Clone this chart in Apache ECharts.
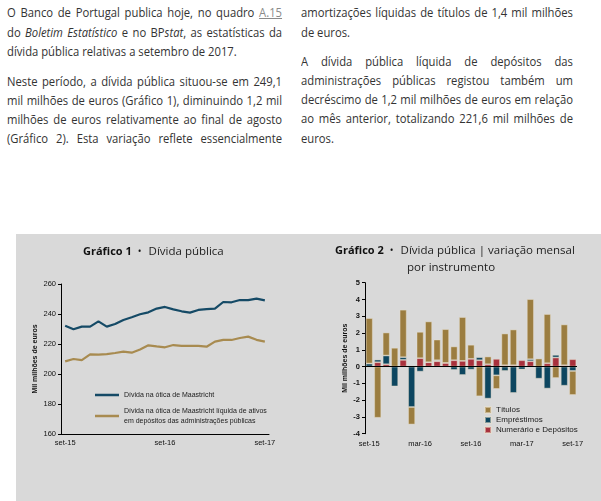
<!DOCTYPE html>
<html><head><meta charset="utf-8">
<script src="https://cdn.jsdelivr.net/npm/echarts@6/dist/echarts.min.js"></script>
<style>
body{margin:0;background:#fff;width:601px;height:501px;overflow:hidden;position:relative;font-family:'Open Sans',sans-serif;}
.l{position:absolute;height:19.4px;line-height:19.4px;font-size:12.5px;color:#333;white-space:normal;transform:scaleX(0.9);transform-origin:0 0;}
.j{text-align:justify;text-align-last:justify;}
.a{text-decoration:underline;color:#8a8a8a;}
#c{position:absolute;left:16px;top:234px;width:585px;height:267px;}
</style></head>
<body>
<div class="l j" style="left:7px;top:3px;width:305.6px">O Banco de Portugal publica hoje, no quadro <span class="a">A.15</span></div>
<div class="l j" style="left:7px;top:22.6px;width:305.6px">do <i>Boletim Estatístico</i> e no BP<i>stat</i>, as estatísticas da</div>
<div class="l" style="left:7px;top:42px;width:305.6px">dívida pública relativas a setembro de 2017.</div>
<div class="l j" style="left:7px;top:72px;width:305.6px">Neste período, a dívida pública situou-se em 249,1</div>
<div class="l j" style="left:7px;top:91px;width:305.6px">mil milhões de euros (Gráfico 1), diminuindo 1,2 mil</div>
<div class="l j" style="left:7px;top:110px;width:305.6px">milhões de euros relativamente ao final de agosto</div>
<div class="l j" style="left:7px;top:129px;width:305.6px">(Gráfico 2). Esta variação reflete essencialmente</div>
<div class="l j" style="left:301px;top:3px;width:302.2px">amortizações líquidas de títulos de 1,4 mil milhões</div>
<div class="l" style="left:301px;top:22.6px;width:302.2px">de euros.</div>
<div class="l j" style="left:301px;top:52px;width:302.2px">A dívida pública líquida de depósitos das</div>
<div class="l j" style="left:301px;top:71px;width:302.2px">administrações públicas registou também um</div>
<div class="l j" style="left:301px;top:90.3px;width:302.2px">decréscimo de 1,2 mil milhões de euros em relação</div>
<div class="l j" style="left:301px;top:109.3px;width:302.2px">ao mês anterior, totalizando 221,6 mil milhões de</div>
<div class="l" style="left:301px;top:128.6px;width:302.2px">euros.</div>
<div id="c"></div>
<script>
const months = ['set-15','out-15','nov-15','dez-15','jan-16','fev-16','mar-16','abr-16','mai-16','jun-16','jul-16','ago-16','set-16','out-16','nov-16','dez-16','jan-17','fev-17','mar-17','abr-17','mai-17','jun-17','jul-17','ago-17','set-17'];
const dividaMaastricht = [232.2,229.8,231.6,231.6,235.1,231.6,233.3,236.0,237.8,239.8,241.1,243.6,244.7,243.1,241.8,240.9,242.7,243.3,243.6,248.0,247.8,249.3,249.3,250.3,249.1];
const dividaLiquida = [208.4,210.0,209.3,213.1,212.9,213.3,214.0,214.9,214.2,216.4,219.1,218.4,217.8,219.3,218.7,218.7,218.7,218.2,221.6,222.7,222.7,224.0,224.9,222.8,221.6];
const titulos = [2.71,-3.05,1.37,1.12,2.83,-1.04,1.57,2.43,1.23,2.01,0.82,2.61,0.84,-1.77,0.46,-0.81,1.89,2.13,0.0,3.58,0.48,2.93,-0.68,2.43,-1.43];
const emprestimos = [0.18,0.16,0.52,-1.18,0.16,-2.41,-0.30,0.0,0.06,0.0,-0.20,-0.50,-0.18,0.18,-1.91,-0.52,-0.26,-1.57,-0.18,0.12,-0.72,-1.31,0.16,-1.14,-0.26];
const numerario = [0.0,0.26,0.14,0.0,0.40,0.03,0.50,0.26,0.32,0.22,0.38,0.34,0.46,0.38,0.14,0.46,0.08,0.08,0.38,0.32,0.0,0.20,0.54,0.08,0.44];

const nameL1 = 'Dívida na ótica de Maastricht';
const nameL2 = 'Dívida na ótica de Maastricht líquida de ativos\nem depósitos das administrações públicas';
const cGold = '#9b7d40', cBlue = '#0d4660', cRed = '#a8313d', cLineBlue = '#154a66', cLineGold = '#a88b50';
const axisFont = {fontSize:7.5, color:'#111', fontFamily:'Liberation Sans'};
const rich = {
  b:{fontFamily:'Open Sans', fontWeight:'bold', fontSize:11, color:'#111'},
  d:{fontFamily:'Open Sans', fontWeight:'normal', fontSize:10, color:'#111', padding:[0,7,0,6]},
  n:{fontFamily:'Open Sans', fontWeight:'normal', fontSize:11.5, color:'#222'}
};
const chart = echarts.init(document.getElementById('c'));
const barStyle = c => ({color:c, borderColor:'rgba(235,225,205,0.55)', borderWidth:0.8});
chart.setOption({
  backgroundColor:'#d9d9d9',
  animation:false,
  textStyle:{fontFamily:'Liberation Sans'},
  title:[
    {left:62, top:7, text:'{b|Gráfico 1}{d|•}{n|Dívida pública}', textStyle:{fontWeight:'normal', rich}},
    {left:314, top:6, text:'{b|Gráfico 2}{d|•}{n|Dívida pública | variação mensal}', textStyle:{fontWeight:'normal', rich}},
    {left:386, top:23, text:'{n|por instrumento}', textStyle:{fontWeight:'normal', rich}}
  ],
  legend:[
    {data:[nameL1, nameL2], orient:'vertical', left:74, top:151, itemWidth:24, itemHeight:2.5, itemGap:6, icon:'rect',
     textStyle:{fontSize:7, lineHeight:10, color:'#1a1a1a', fontFamily:'Liberation Sans'}},
    {data:['Títulos','Empréstimos','Numerário e Depósitos'], orient:'vertical', left:463, top:167, itemWidth:6, itemHeight:6, itemGap:2, icon:'rect',
     textStyle:{fontSize:8, lineHeight:8, color:'#1a1a1a', fontFamily:'Liberation Sans'}}
  ],
  grid:[
    {left:45, top:50, width:208, height:150},
    {left:349, top:48.7, width:212, height:151}
  ],
  xAxis:[
    {gridIndex:0, type:'category', data:months, boundaryGap:true,
     axisLine:{lineStyle:{color:'#000', width:1}}, axisTick:{interval:11, length:4, lineStyle:{color:'#000'}},
     axisLabel:Object.assign({interval:11, margin:5}, axisFont)},
    {gridIndex:1, type:'category', data:months, boundaryGap:true,
     axisLine:{show:false}, axisTick:{show:false},
     axisLabel:Object.assign({interval:5, margin:6}, axisFont)}
  ],
  yAxis:[
    {gridIndex:0, type:'value', min:160, max:260, interval:20,
     axisLine:{show:true, lineStyle:{color:'#000'}}, axisTick:{show:true, length:3, lineStyle:{color:'#000'}},
     splitLine:{show:false}, axisLabel:Object.assign({margin:5}, axisFont),
     name:'Mil milhões de euros', nameLocation:'middle', nameGap:22,
     nameTextStyle:{fontSize:7, fontWeight:'bold', color:'#111', fontFamily:'Liberation Sans'}},
    {gridIndex:1, type:'value', min:-4, max:5, interval:1,
     axisLine:{show:true, lineStyle:{color:'#000'}}, axisTick:{show:true, length:3, lineStyle:{color:'#000'}},
     splitLine:{show:false}, axisLabel:Object.assign({margin:5, fontWeight:'bold'}, axisFont),
     name:'Mil milhões de euros', nameLocation:'middle', nameGap:16,
     nameTextStyle:{fontSize:7, fontWeight:'bold', color:'#111', fontFamily:'Liberation Sans'}}
  ],
  series:[
    {name:nameL1, type:'line', xAxisIndex:0, yAxisIndex:0, data:dividaMaastricht, showSymbol:false, symbol:'none',
     lineStyle:{color:cLineBlue, width:2.2}, itemStyle:{color:cLineBlue}},
    {name:nameL2, type:'line', xAxisIndex:0, yAxisIndex:0, data:dividaLiquida, showSymbol:false, symbol:'none',
     lineStyle:{color:cLineGold, width:2.2}, itemStyle:{color:cLineGold}},
    {name:'Numerário e Depósitos', type:'bar', stack:'inst', xAxisIndex:1, yAxisIndex:1, data:numerario, barWidth:7, itemStyle:barStyle(cRed)},
    {name:'Empréstimos', type:'bar', stack:'inst', xAxisIndex:1, yAxisIndex:1, data:emprestimos, barWidth:7, itemStyle:barStyle(cBlue)},
    {name:'Títulos', type:'bar', stack:'inst', xAxisIndex:1, yAxisIndex:1, data:titulos, barWidth:7, itemStyle:barStyle(cGold),
     markLine:{silent:true, symbol:'none', label:{show:false}, lineStyle:{color:'#000', type:'solid', width:1}, data:[{yAxis:0}]}}
  ]
});
</script>
</body></html>
